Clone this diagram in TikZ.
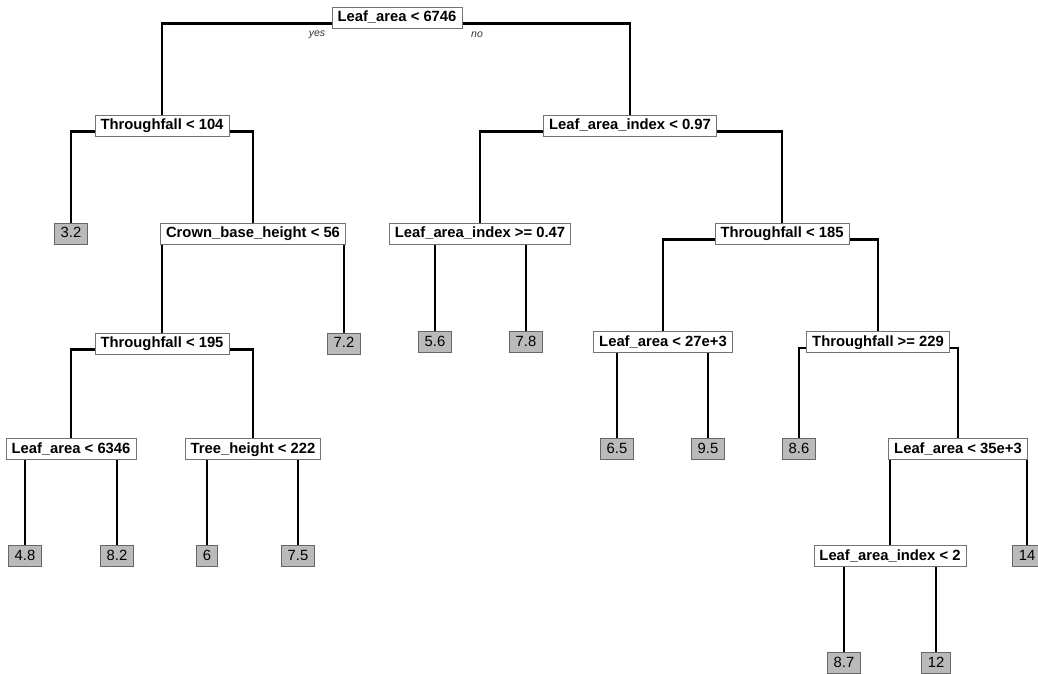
\documentclass[tikz,border=0pt]{standalone}
\usepackage{fontspec}
\setmainfont{Liberation Sans}
\usetikzlibrary{backgrounds}

\tikzset{
    split/.style={draw=black!55, fill=white, line width=0.9pt, font=\fontsize{14.8}{16}\selectfont\bfseries,
        inner xsep=5.5pt, inner ysep=0pt, text height=11pt, text depth=3pt, minimum height=21pt},
    leaf/.style={draw=black!60, fill=black!27, line width=0.9pt, font=\fontsize{14.8}{16}\selectfont,
        inner xsep=6pt, inner ysep=0pt, text height=11pt, text depth=3pt, minimum height=21pt},
    branch/.style={line width=2.9pt, line cap=rect},
    answer/.style={font=\fontsize{10.5}{12}\selectfont\itshape, text=black!80}
}

\begin{document}
\begin{tikzpicture}[x=1pt, y=-1pt]
    \useasboundingbox (0,0) rectangle (1038,674);
    % Splits
    \node[split] (root)   at (397,17.5)  {Leaf\_area < 6746};
    \node[split] (t104)   at (162,125.5) {Throughfall < 104};
    \node[split] (lai097) at (630,125.5) {Leaf\_area\_index < 0.97};
    \node[split] (cbh56)  at (253,233.5) {Crown\_base\_height < 56};
    \node[split] (lai047) at (480,233.5) {Leaf\_area\_index >= 0.47};
    \node[split] (t185)   at (782,233.5) {Throughfall < 185};
    \node[split] (t195)   at (162,343.5) {Throughfall < 195};
    \node[split] (la27)   at (663,342)   {Leaf\_area < 27e+3};
    \node[split] (t229)   at (878,342)   {Throughfall >= 229};
    \node[split] (la6346) at (71,449)    {Leaf\_area < 6346};
    \node[split] (th222)  at (253,449)   {Tree\_height < 222};
    \node[split] (la35)   at (958,449)   {Leaf\_area < 35e+3};
    \node[split] (lai2)   at (890,556)   {Leaf\_area\_index < 2};
    % Leaves
    \node[leaf] (v32) at (71,233.5)  {3.2};
    \node[leaf] (v72) at (344,343.5) {7.2};
    \node[leaf] (v56) at (435,342)   {5.6};
    \node[leaf] (v78) at (526,342)   {7.8};
    \node[leaf] (v65) at (617,449)   {6.5};
    \node[leaf] (v95) at (708,449)   {9.5};
    \node[leaf] (v86) at (799,449)   {8.6};
    \node[leaf] (v48) at (25,556)    {4.8};
    \node[leaf] (v82) at (117,556)   {8.2};
    \node[leaf] (v6)  at (207,556)   {6};
    \node[leaf] (v75) at (298,556)   {7.5};
    \node[leaf] (v14) at (1027,556)  {14};
    \node[leaf] (v87) at (844,663)   {8.7};
    \node[leaf] (v12) at (936,663)   {12};
    % yes / no
    \node[answer] (yes) at (317,35) {yes};
    \node[answer] (no)  at (477,35) {no};
    % Branches
    \begin{scope}[on background layer]
        \foreach \p/\c in {root/t104, root/lai097, t104/v32, t104/cbh56, cbh56/t195, cbh56/v72,
                           t195/la6346, t195/th222, la6346/v48, la6346/v82, th222/v6, th222/v75,
                           lai097/lai047, lai097/t185, lai047/v56, lai047/v78, t185/la27, t185/t229,
                           la27/v65, la27/v95, t229/v86, t229/la35, la35/lai2, la35/v14, lai2/v87, lai2/v12}
            \draw[branch] ([yshift=5pt]\p.south) -| (\c.north);
    \end{scope}
\end{tikzpicture}
\end{document}
